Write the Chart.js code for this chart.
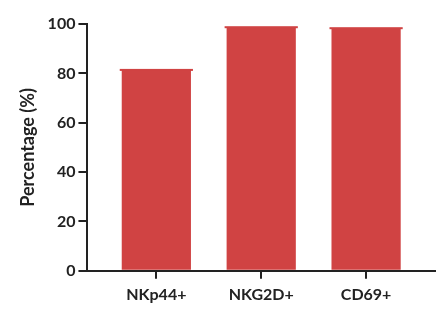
<!DOCTYPE html>
<html>
<head>
<meta charset="utf-8">
<script src="https://cdn.jsdelivr.net/npm/chart.js@4/dist/chart.umd.min.js"></script>
<style>
  html, body { margin: 0; padding: 0; background: #fff; }
  #chart { display: block; }
</style>
</head>
<body>
<canvas id="chart" width="444" height="314"></canvas>
<script>
'use strict';

//***** DATA *****/
let categories = ['NKp44+', 'NKG2D+', 'CD69+'];
let percentValues = [81.4, 98.7, 98.3];
let yTicks = [0, 20, 40, 60, 80, 100];

let barColor = 'rgb(208, 67, 67)';
let inkColor = '#222222';
let fontFamily = 'Lato, "Open Sans", sans-serif';

// small cap on top of each bar, like the error bar cap in the figure
let capPlugin = {
  id: 'caps',
  afterDatasetsDraw(chart) {
    let ctx = chart.ctx;
    let meta = chart.getDatasetMeta(0);
    ctx.save();
    ctx.fillStyle = barColor;
    meta.data.forEach(function (bar) {
      let half = bar.width / 2 + 2;
      ctx.fillRect(bar.x - half, bar.y - 1, half * 2, 2);
    });
    ctx.restore();
  }
};

let points = categories.map(function (name, i) {
  return { x: i, y: percentValues[i] };
});

let canvasElem = document.getElementById('chart');

new Chart(canvasElem, {
  type: 'bar',
  data: {
    datasets: [{
      data: points,
      backgroundColor: barColor,
      borderWidth: 0,
      barPercentage: 0.66,
      categoryPercentage: 1
    }]
  },
  options: {
    responsive: false,
    animation: false,
    layout: { padding: { top: 24, right: 9, left: 17, bottom: 4 } },
    plugins: {
      legend: { display: false },
      tooltip: { enabled: false }
    },
    scales: {
      x: {
        type: 'linear',
        offset: false,
        min: -0.657,
        max: 2.657,
        afterBuildTicks(scale) {
          scale.ticks = categories.map(function (c, i) { return { value: i }; });
        },
        ticks: {
          callback: function (v) { return categories[v]; },
          color: inkColor,
          font: { family: fontFamily, size: 16, weight: 'bold' },
          padding: 6,
          maxRotation: 0
        },
        grid: {
          offset: false,
          drawOnChartArea: false,
          drawTicks: true,
          tickLength: 8,
          color: inkColor,
          lineWidth: 2
        },
        border: { display: true, color: inkColor, width: 2 }
      },
      y: {
        min: 0,
        max: 100,
        afterBuildTicks(scale) {
          scale.ticks = yTicks.map(function (v) { return { value: v }; });
        },
        ticks: {
          color: inkColor,
          font: { family: fontFamily, size: 16, weight: 'bold' },
          padding: 3
        },
        grid: {
          drawOnChartArea: false,
          drawTicks: true,
          tickLength: 9,
          color: inkColor,
          lineWidth: 2
        },
        border: { display: true, color: inkColor, width: 2 },
        title: {
          display: true,
          text: 'Percentage (%)',
          color: inkColor,
          font: { family: fontFamily, size: 18, weight: 'bold' },
          padding: { top: 0, bottom: 6 }
        }
      }
    }
  },
  plugins: [capPlugin]
});
</script>
</body>
</html>
